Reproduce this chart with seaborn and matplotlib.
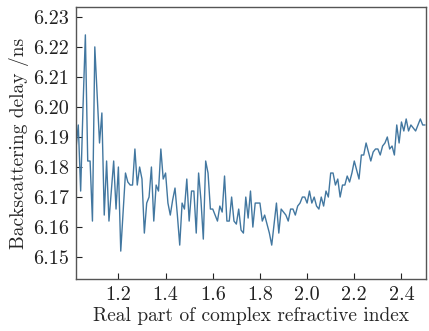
import numpy as np
import pandas as pd
import matplotlib
matplotlib.use("Agg")
import matplotlib.pyplot as plt
import seaborn as sns

# x grid: real part of complex refractive index, 1.02 .. 2.50 step 0.01
x_start, x_stop, x_step = 1.02, 2.50, 0.01

delay_ns = [
    # 1.02 - 1.11
    6.186, 6.194, 6.172, 6.200, 6.224, 6.182, 6.182, 6.162, 6.220, 6.204,
    # 1.12 - 1.21
    6.188, 6.198, 6.164, 6.182, 6.162, 6.172, 6.182, 6.166, 6.180, 6.152,
    # 1.22 - 1.31
    6.165, 6.178, 6.175, 6.174, 6.174, 6.186, 6.174, 6.180, 6.176, 6.158,
    # 1.32 - 1.41
    6.168, 6.170, 6.180, 6.162, 6.174, 6.172, 6.186, 6.176, 6.178, 6.168,
    # 1.42 - 1.51
    6.164, 6.169, 6.173, 6.164, 6.154, 6.168, 6.166, 6.176, 6.162, 6.172,
    # 1.52 - 1.61
    6.172, 6.158, 6.178, 6.169, 6.156, 6.182, 6.178, 6.166, 6.166, 6.164,
    # 1.62 - 1.71
    6.162, 6.167, 6.165, 6.177, 6.162, 6.162, 6.170, 6.162, 6.161, 6.166,
    # 1.72 - 1.81
    6.159, 6.158, 6.170, 6.163, 6.172, 6.160, 6.168, 6.168, 6.168, 6.162,
    # 1.82 - 1.91
    6.164, 6.161, 6.158, 6.154, 6.161, 6.168, 6.158, 6.166, 6.165, 6.164,
    # 1.92 - 2.01
    6.162, 6.166, 6.166, 6.164, 6.167, 6.168, 6.170, 6.170, 6.168, 6.172,
    # 2.02 - 2.11
    6.168, 6.170, 6.167, 6.166, 6.170, 6.167, 6.172, 6.170, 6.178, 6.178,
    # 2.12 - 2.21
    6.174, 6.176, 6.170, 6.174, 6.174, 6.177, 6.175, 6.178, 6.182, 6.179,
    # 2.22 - 2.31
    6.176, 6.184, 6.184, 6.188, 6.185, 6.182, 6.185, 6.186, 6.186, 6.184,
    # 2.32 - 2.41
    6.187, 6.188, 6.190, 6.186, 6.187, 6.184, 6.194, 6.188, 6.195, 6.192,
    # 2.42 - 2.50
    6.196, 6.192, 6.194, 6.193, 6.192, 6.194, 6.196, 6.194, 6.194,
]

x_ticks = [1.2, 1.4, 1.6, 1.8, 2.0, 2.2, 2.4]
x_ticklabels = ["1.2", "1.4", "1.6", "1.8", "2.0", "2.2", "2.4"]
y_ticks = [6.15, 6.16, 6.17, 6.18, 6.19, 6.20, 6.21, 6.22, 6.23]
y_ticklabels = ["6.15", "6.16", "6.17", "6.18", "6.19", "6.20", "6.21", "6.22", "6.23"]

n_real = np.round(np.linspace(x_start, x_stop, len(delay_ns)), 2)
df = pd.DataFrame({"n": n_real, "delay": delay_ns})

sns.set_theme(style="ticks")
plt.rcParams["font.family"] = ["cmr10", "DejaVu Serif"]
plt.rcParams["axes.formatter.use_mathtext"] = True

fig = plt.figure(figsize=(4.29, 3.31), dpi=100)
ax = fig.add_axes([0.177, 0.157, 0.816, 0.822])

sns.lineplot(data=df, x="n", y="delay", ax=ax, color="#4277a0", linewidth=1.0)

ax.set_xlim(1.02, 2.504)
ax.set_ylim(6.1427, 6.2333)
ax.set_xticks(x_ticks)
ax.set_xticklabels(x_ticklabels)
ax.set_yticks(y_ticks)
ax.set_yticklabels(y_ticklabels)
ax.tick_params(direction="in", length=4, width=0.8, labelsize=14.5, colors="#222222",
               pad=5)
ax.set_xlabel("Real part of complex refractive index", fontsize=14, labelpad=2)
ax.set_ylabel("Backscattering delay /ns", fontsize=14, labelpad=3)
for s in ax.spines.values():
    s.set_color("#555555")
    s.set_linewidth(1.0)

fig.savefig("out.png", dpi=100)
